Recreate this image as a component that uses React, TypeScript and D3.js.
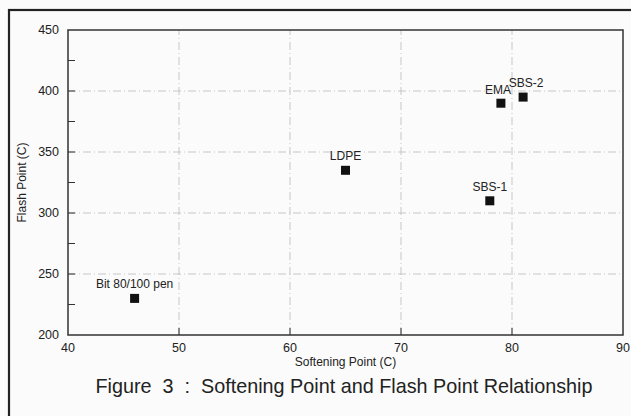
import { useEffect, useRef } from "react";
import * as d3 from "d3";

const W = 631;
const H = 416;

const names = ["Bit 80/100 pen", "LDPE", "SBS-1", "EMA", "SBS-2"];
const softening = [46, 65, 78, 79, 81];
const flash = [230, 335, 310, 390, 395];
const xTicks = [40, 50, 60, 70, 80, 90];
const yTicks = [200, 250, 300, 350, 400, 450];
const yMinor = [225, 275, 325, 375, 425];

const margin = { left: 68, right: 8, top: 30, bottom: 81 };
const font = "'Liberation Sans', Arial, sans-serif";

export default function App() {
  const svgRef = useRef<SVGSVGElement>(null);

  useEffect(() => {
    const svg = d3.select(svgRef.current);
    svg.selectAll("*").remove();

    const x = d3.scaleLinear().domain([40, 90]).range([margin.left, W - margin.right]);
    const y = d3.scaleLinear().domain([200, 450]).range([H - margin.bottom, margin.top]);

    svg.append("rect").attr("width", W).attr("height", H).attr("fill", "#fbfbfb");

    // outer frame (runs off the right / bottom of the picture)
    svg
      .append("rect")
      .attr("x", 9)
      .attr("y", 10)
      .attr("width", W + 20)
      .attr("height", H + 20)
      .attr("fill", "none")
      .attr("stroke", "#222")
      .attr("stroke-width", 2.2);

    const grid = svg.append("g").attr("stroke", "#bbb").attr("stroke-width", 0.8).attr("stroke-dasharray", "8,3,1,3");
    grid
      .selectAll("line.gx")
      .data(xTicks.slice(1, -1))
      .join("line")
      .attr("x1", (d) => x(d))
      .attr("x2", (d) => x(d))
      .attr("y1", y(200))
      .attr("y2", y(450));
    grid
      .selectAll("line.gy")
      .data(yTicks.slice(1, -1))
      .join("line")
      .attr("x1", x(40))
      .attr("x2", x(90))
      .attr("y1", (d) => y(d))
      .attr("y2", (d) => y(d));

    const axes = svg.append("g").attr("stroke", "#333");
    axes
      .append("rect")
      .attr("x", x(40))
      .attr("y", y(450))
      .attr("width", x(90) - x(40))
      .attr("height", y(200) - y(450))
      .attr("fill", "none")
      .attr("stroke-width", 1.5);
    axes
      .selectAll("line.tx")
      .data(xTicks.slice(1, -1))
      .join("line")
      .attr("x1", (d) => x(d))
      .attr("x2", (d) => x(d))
      .attr("y1", y(200))
      .attr("y2", y(200) - 7);
    axes
      .selectAll("line.ty")
      .data([...yTicks.slice(1, -1), ...yMinor])
      .join("line")
      .attr("x1", x(40))
      .attr("x2", x(40) + 7)
      .attr("y1", (d) => y(d))
      .attr("y2", (d) => y(d));

    const txt = svg.append("g").attr("font-family", font).attr("fill", "#222");
    txt
      .selectAll("text.xl")
      .data(xTicks)
      .join("text")
      .attr("x", (d) => x(d))
      .attr("y", y(200) + 17)
      .attr("text-anchor", "middle")
      .attr("font-size", 12.5)
      .text((d) => d);
    txt
      .selectAll("text.yl")
      .data(yTicks)
      .join("text")
      .attr("x", x(40) - 9)
      .attr("y", (d) => y(d) + 4)
      .attr("text-anchor", "end")
      .attr("font-size", 12.5)
      .text((d) => d);

    txt
      .append("text")
      .attr("x", (x(40) + x(90)) / 2)
      .attr("y", y(200) + 31)
      .attr("text-anchor", "middle")
      .attr("font-size", 12)
      .text("Softening Point (C)");
    txt
      .append("text")
      .attr("transform", `translate(26,${(y(200) + y(450)) / 2}) rotate(-90)`)
      .attr("text-anchor", "middle")
      .attr("font-size", 12)
      .text("Flash Point (C)");

    txt
      .append("text")
      .attr("x", 344)
      .attr("y", 393)
      .attr("text-anchor", "middle")
      .attr("font-size", 19.8)
      .attr("xml:space", "preserve")
      .style("white-space", "pre")
      .text("Figure  3  :  Softening Point and Flash Point Relationship");

    const pts = names.map((n, i) => ({ name: n, sx: softening[i], fy: flash[i] }));
    svg
      .append("g")
      .selectAll("rect")
      .data(pts)
      .join("rect")
      .attr("x", (d) => x(d.sx) - 4.5)
      .attr("y", (d) => y(d.fy) - 4.5)
      .attr("width", 9)
      .attr("height", 9)
      .attr("fill", "#111");

    // EMA and SBS-2 labels crowd each other in the original; nudge them apart a little
    const labelDx: Record<string, number> = { "SBS-2": 3, EMA: -3 };
    const labelDy: Record<string, number> = { "SBS-2": -10, EMA: -9 };
    txt
      .selectAll("text.pl")
      .data(pts)
      .join("text")
      .attr("x", (d) => x(d.sx) + (labelDx[d.name] ?? 0))
      .attr("y", (d) => y(d.fy) + (labelDy[d.name] ?? -10))
      .attr("text-anchor", "middle")
      .attr("font-size", 12)
      .text((d) => d.name);
  }, []);

  return (
    <div style={{ position: "fixed", left: 0, top: 0 }}>
      <svg ref={svgRef} width={W} height={H} style={{ display: "block" }} />
    </div>
  );
}
